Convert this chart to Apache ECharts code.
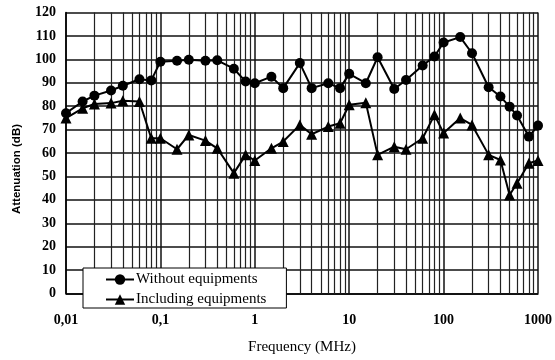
<!DOCTYPE html>
<html>
<head>
<meta charset="utf-8">
<script src="https://cdn.jsdelivr.net/npm/echarts@6/dist/echarts.min.js"></script>
<style>
  html, body { margin: 0; padding: 0; background: #fff; }
  #chart { width: 555px; height: 360px; }
</style>
</head>
<body>
<div id="chart"></div>
<script>
// frequencies in MHz, shared by both curves
const freqs = [0.01, 0.015, 0.02, 0.03, 0.04, 0.06, 0.08, 0.1, 0.15, 0.2, 0.3, 0.4, 0.6, 0.8,
  1, 1.5, 2, 3, 4, 6, 8, 10, 15, 20, 30, 40, 60, 80, 100, 150, 200, 300, 400, 500, 600, 800, 1000];

// attenuation (dB)
const withoutEquip = [77, 82, 84.5, 86.7, 88.7, 91.5, 91, 99, 99.4, 99.8, 99.4, 99.6, 96, 90.5,
  89.8, 92.6, 87.7, 98.4, 87.7, 89.8, 87.7, 93.8, 89.8, 100.9, 87.3, 91.2, 97.4, 101.2, 107.2,
  109.5, 102.6, 88.1, 84.1, 79.8, 76, 67, 71.7];
const includingEquip = [74.9, 79.1, 80.9, 81.3, 82.3, 82, 66.3, 66.3, 61.6, 67.7, 65.3, 62, 51.4, 59.2,
  56.8, 62, 64.9, 72, 68, 71.3, 72.7, 80.6, 81.5, 59.2, 62.7, 61.6, 66.3, 76.3, 68.5,
  74.9, 72, 59.2, 57, 42.1, 47.1, 55.6, 56.8];

const seriesNames = ['Without equipments', 'Including equipments'];

// log grid: minor lines 2..9 in each decade
const decades = [0.01, 0.1, 1, 10, 100];
const minorLines = [];
decades.forEach(d => {
  for (let k = 2; k <= 9; k++) minorLines.push({ xAxis: +(d * k).toPrecision(3) });
});

const serif = '"Liberation Serif", "DejaVu Serif", serif';
const sans = '"Liberation Sans", Arial, sans-serif';
const chart = echarts.init(document.getElementById('chart'));

const pairs = arr => freqs.map((f, i) => [f, arr[i]]);

chart.setOption({
  animation: false,
  backgroundColor: '#fff',
  grid: { left: 66, right: 13, top: 12.5, bottom: 66.5, containLabel: false },
  legend: {
    orient: 'vertical',
    left: 83,
    top: 268,
    padding: [4, 20, 1, 22],
    itemGap: 5,
    itemWidth: 28,
    itemHeight: 13,
    backgroundColor: '#fff',
    borderColor: '#000',
    borderWidth: 1,
    borderRadius: 0,
    textStyle: { fontFamily: serif, fontSize: 15, color: '#000', padding: [0, 0, 0, -3] },
    data: seriesNames
  },
  xAxis: {
    type: 'log',
    logBase: 10,
    min: 0.01,
    max: 1000,
    name: 'Frequency (MHz)',
    nameLocation: 'middle',
    nameGap: 46,
    nameTextStyle: { fontFamily: serif, fontSize: 15, color: '#000' },
    axisLine: { lineStyle: { color: '#000', width: 1.5 } },
    axisTick: { show: false },
    axisLabel: {
      margin: 20,
      fontFamily: serif,
      fontSize: 14,
      fontWeight: 'bold',
      color: '#000',
      formatter: v => String(v).replace('.', ',')
    },
    splitLine: { show: true, lineStyle: { color: '#111', width: 1.5 } }
  },
  yAxis: {
    type: 'value',
    min: 0,
    max: 120,
    interval: 10,
    name: 'Attenuation (dB)',
    nameLocation: 'middle',
    nameGap: 43,
    nameTextStyle: { fontFamily: sans, fontSize: 11.5, fontWeight: 'bold', color: '#000', padding: [0, 32, 0, 0] },
    axisLine: { show: true, lineStyle: { color: '#000', width: 1.5 } },
    axisTick: { show: false },
    axisLabel: { margin: 10, fontFamily: serif, fontSize: 14, fontWeight: 'bold', color: '#000' },
    splitLine: { show: true, lineStyle: { color: '#111', width: 1.5 } }
  },
  series: [
    {
      name: seriesNames[0],
      type: 'line',
      z: 3,
      data: pairs(withoutEquip),
      symbol: 'circle',
      symbolSize: 10,
      lineStyle: { color: '#000', width: 2 },
      itemStyle: { color: '#000' },
      markLine: {
        silent: true,
        z: 1,
        symbol: 'none',
        label: { show: false },
        lineStyle: { color: '#222', width: 1.2, type: 'solid' },
        emphasis: { disabled: true },
        data: minorLines
      }
    },
    {
      name: seriesNames[1],
      type: 'line',
      z: 3,
      data: pairs(includingEquip),
      symbol: 'triangle',
      symbolSize: 11,
      lineStyle: { color: '#000', width: 2 },
      itemStyle: { color: '#000' }
    }
  ]
});
</script>
</body>
</html>
